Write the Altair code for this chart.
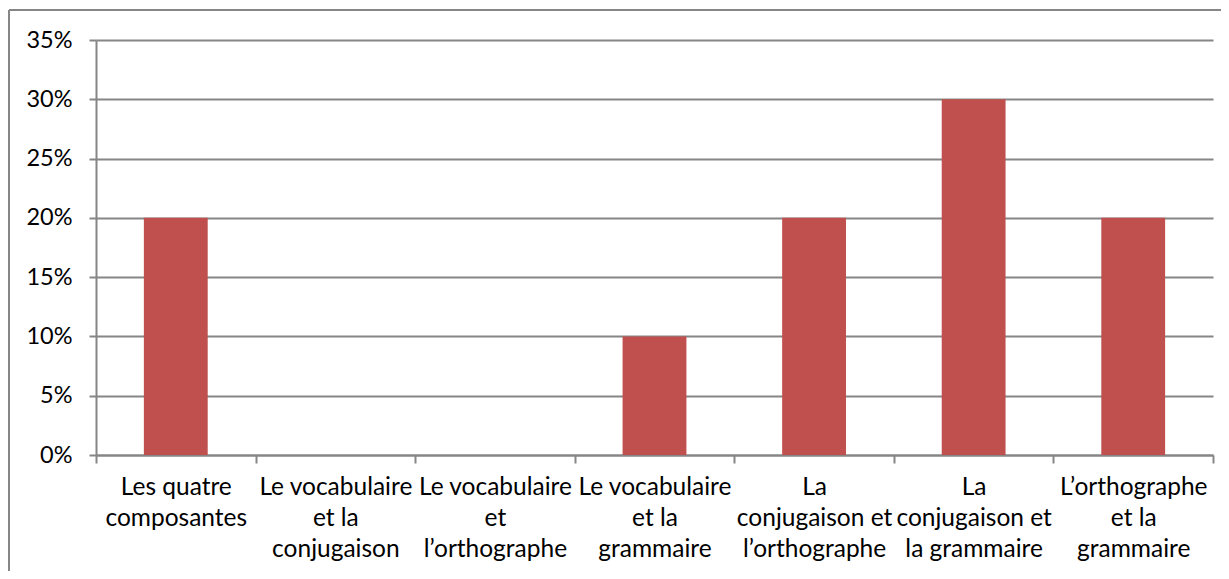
import altair as alt
import pandas as pd

categories = [
    "Les quatre|composantes",
    "Le vocabulaire|et la|conjugaison",
    "Le vocabulaire|et|l’orthographe",
    "Le vocabulaire|et la|grammaire",
    "La|conjugaison et|l’orthographe",
    "La|conjugaison et|la grammaire",
    "L’orthographe|et la|grammaire",
]
values = [0.20, 0.0, 0.0, 0.10, 0.20, 0.30, 0.20]
y_ticks = [0, 0.05, 0.10, 0.15, 0.20, 0.25, 0.30, 0.35]

df = pd.DataFrame({"cat": categories, "val": values})

GRAY = "#868686"
FONT = "Lato"

bars = alt.Chart(df).mark_bar(color="#C0504D", width=alt.RelativeBandSize(0.4)).encode(
    x=alt.X(
        "cat:N",
        sort=categories,
        scale=alt.Scale(paddingInner=0, paddingOuter=0),
        axis=alt.Axis(
            title=None,
            labelAngle=0,
            labelExpr="split(datum.label, '|')",
            labelFont=FONT,
            labelFontSize=24.5,
            labelColor="#000000",
            labelLineHeight=31,
            labelPadding=12,
            labelOverlap=False,
            labelLimit=0,
            labelBaseline="top",
            tickBand="extent",
            tickSize=8,
            tickColor=GRAY,
            tickWidth=2,
            domainColor=GRAY,
            domainWidth=2,
            grid=False,
        ),
    ),
    y=alt.Y(
        "val:Q",
        scale=alt.Scale(domain=[0, 0.35], nice=False),
        axis=alt.Axis(
            title=None,
            values=y_ticks,
            format=".0%",
            labelFont=FONT,
            labelFontSize=23.5,
            labelColor="#000000",
            labelPadding=17,
            tickSize=7,
            tickColor=GRAY,
            tickWidth=2,
            domainColor=GRAY,
            domainWidth=2,
            gridColor=GRAY,
            gridWidth=2,
        ),
    ),
)

frame_data = alt.Data(values=[{"a": 1}])
frame_top = alt.Chart(frame_data).mark_rule(color=GRAY, strokeWidth=2).encode(
    x=alt.value(-87), x2=alt.value(1140), y=alt.value(-30)
)
frame_left = alt.Chart(frame_data).mark_rule(color=GRAY, strokeWidth=2).encode(
    x=alt.value(-87), y=alt.value(-30), y2=alt.value(560)
)

chart = (
    alt.layer(frame_top, frame_left, bars)
    .properties(
        width=1117,
        height=415,
        autosize=alt.AutoSizeParams(type="none"),
        padding={"left": 88, "top": 32, "right": 8, "bottom": 116},
        background="white",
    )
    .configure_view(stroke=None)
)

chart.save("out.html", embed_options={"renderer": "svg", "actions": False})
